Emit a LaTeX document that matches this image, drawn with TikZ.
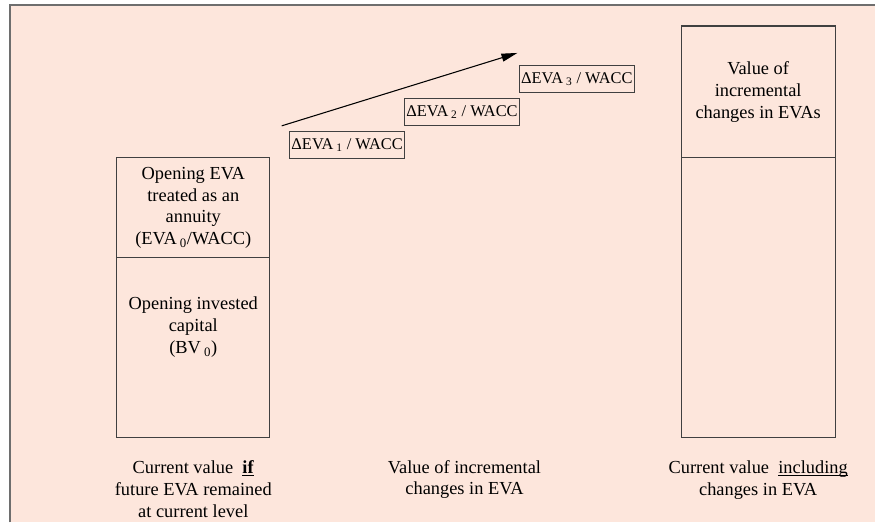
\documentclass[tikz,border=0pt]{standalone}
\usepackage{fontspec}
\setmainfont{Liberation Serif}
\usetikzlibrary{arrows.meta,positioning}
\definecolor{peach}{RGB}{253,230,220}
\definecolor{framegray}{RGB}{110,110,110}
\newcommand{\ulword}[1]{\underline{\smash{#1}}}

\begin{document}
\begin{tikzpicture}[x=0.75pt,y=-0.75pt,node distance=4.5pt and 0pt,
    col/.style={draw=black!75,line width=0.8pt,minimum width=114.75pt,inner sep=0pt,outer sep=0pt,align=center,font=\fontsize{13.8}{16.3}\selectfont},
    delta/.style={draw=black!75,line width=0.8pt,minimum width=86.25pt,minimum height=20.25pt,inner sep=1pt,outer sep=0pt,font=\fontsize{12.3}{14}\selectfont},
    lbl/.style={align=center,font=\fontsize{13.8}{16.3}\selectfont},
    arr/.style={-{Triangle[length=12pt,width=6pt]},line width=0.8pt}]
    \fill[peach] (10,5) rectangle (876,523);
    \draw[framegray,line width=1.5pt] (10,523) |- (876,5);
    \useasboundingbox (0,0) rectangle (876,523);
    % left column
    \node[col,minimum height=75pt,anchor=north west] (eva0) at (117,158) {Opening EVA\\treated as an\\annuity\\(EVA\,\textsubscript{0}/WACC)};
    \node[col,minimum height=135pt,below=0pt of eva0] (bv0) {};
    \node[lbl,below=26pt of bv0.north] (bvtxt) {Opening invested\\capital\\(BV\,\textsubscript{0})};
    % right column
    \node[col,minimum width=115.5pt,minimum height=99pt,anchor=north west] (dinc) at (682,26) {Value of\\incremental\\changes in EVAs};
    \node[col,minimum width=115.5pt,minimum height=210pt,below=0pt of dinc] (base) {};
    % incremental steps
    \node[delta,anchor=north west] (d1) at (290,132) {ΔEVA\,\textsubscript{1} / WACC};
    \node[delta,above right=4.5pt and 0pt of d1] (d2) {ΔEVA\,\textsubscript{2} / WACC};
    \node[delta,above right=4.5pt and 0pt of d2] (d3) {ΔEVA\,\textsubscript{3} / WACC};
    \coordinate (tail) at (282,126);
    \coordinate (tip) at (518,53);
    \draw[arr] (tail)--(tip);
    % captions
    \node[lbl,below=14pt of bv0] (capl) {Current value \ \ulword{\textbf{if}}\\future EVA remained\\at current level};
    \node[lbl] (capm) at (465,480) {Value of incremental\\changes in EVA};
    \node[lbl,below=14pt of base] (capr) {Current value \ \ulword{including}\\changes in EVA};
\end{tikzpicture}
\end{document}
